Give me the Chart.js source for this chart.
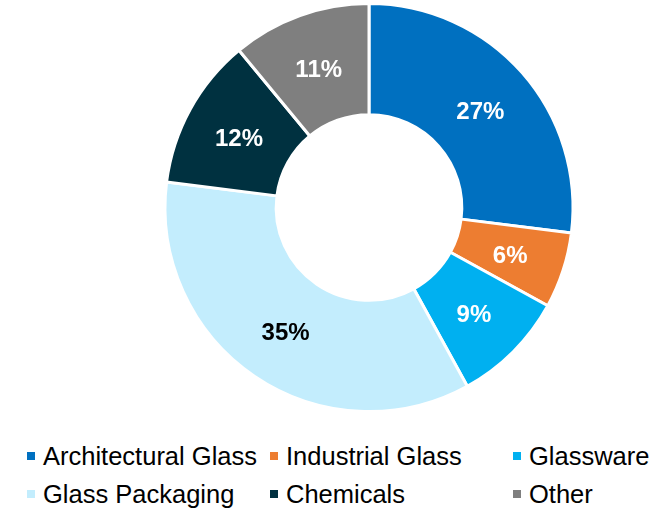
<!DOCTYPE html>
<html>
<head>
<meta charset="utf-8">
<script src="https://cdn.jsdelivr.net/npm/chart.js@4.4.1/dist/chart.umd.min.js"></script>
<style>
  html, body { margin: 0; padding: 0; background: #ffffff; }
  body { width: 664px; height: 510px; position: relative; overflow: hidden; font-family: "Liberation Sans", Arial, sans-serif; }
  .chart-wrap { position: absolute; left: 0; top: 0; width: 664px; height: 416px; }
  .legend { position: absolute; left: 27px; top: 442px; display: grid; grid-template-columns: 243px 243px 140px; row-gap: 9px; }
  .legend-item { display: flex; align-items: center; font-size: 25.5px; line-height: 29px; color: #000; white-space: nowrap; }
  .legend-box { width: 8px; height: 8px; margin-right: 8px; margin-top: -1px; flex: none; }
</style>
</head>
<body>
<div class="chart-wrap"><canvas id="segmentChart"></canvas></div>
<div class="legend" id="segmentLegend"></div>

<script>
// Sales split by segment (share in %)
const segments = ['Architectural Glass', 'Industrial Glass', 'Glassware', 'Glass Packaging', 'Chemicals', 'Other'];
const shares = [27, 6, 9, 35, 12, 11];
const segmentColors = ['#0070C0', '#ED7D31', '#00B0F0', '#C3EDFD', '#003140', '#7F7F7F'];
const labelColors = ['#ffffff', '#ffffff', '#ffffff', '#000000', '#ffffff', '#ffffff'];

// Percent labels drawn at the middle of each ring segment
const sliceLabels = {
  id: 'sliceLabels',
  afterDatasetsDraw(chart) {
    const ctx = chart.ctx;
    const meta = chart.getDatasetMeta(0);
    ctx.save();
    ctx.font = 'bold 24px "Liberation Sans", Arial, sans-serif';
    ctx.textAlign = 'center';
    ctx.textBaseline = 'middle';
    meta.data.forEach((arc, i) => {
      const pos = arc.tooltipPosition();
      ctx.fillStyle = labelColors[i];
      ctx.fillText(shares[i] + '%', pos.x, pos.y + 3);
    });
    ctx.restore();
  }
};

const ctx = document.getElementById('segmentChart').getContext('2d');
new Chart(ctx, {
  type: 'doughnut',
  data: {
    labels: segments,
    datasets: [{
      data: shares,
      backgroundColor: segmentColors,
      borderColor: '#ffffff',
      borderWidth: 3
    }]
  },
  options: {
    responsive: true,
    maintainAspectRatio: false,
    animation: false,
    cutout: '45.5%',
    layout: { padding: { left: 74, top: 2, bottom: 3, right: 0 } },
    plugins: {
      legend: { display: false },
      tooltip: { enabled: false }
    }
  },
  plugins: [sliceLabels]
});

// Legend, three columns
const legendEl = document.getElementById('segmentLegend');
segments.forEach((name, i) => {
  const item = document.createElement('div');
  item.className = 'legend-item';
  item.innerHTML = `<span class="legend-box" style="background:${segmentColors[i]}"></span>${name}`;
  legendEl.appendChild(item);
});
</script>
</body>
</html>
